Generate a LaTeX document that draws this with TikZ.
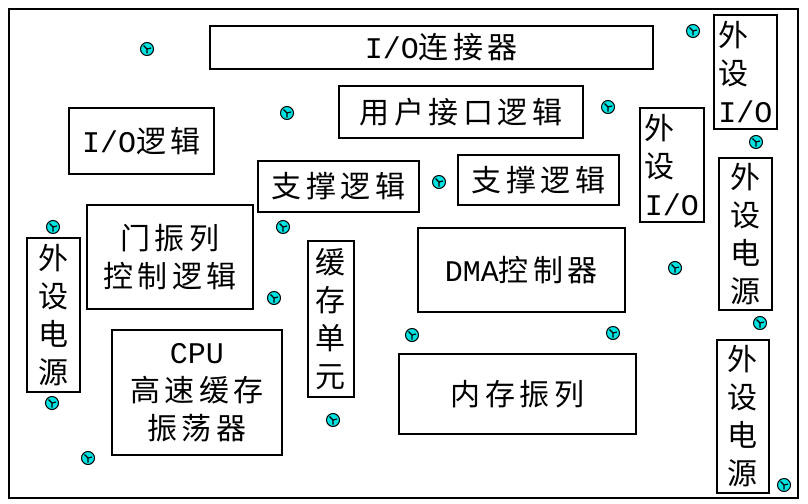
\documentclass[tikz,border=0pt]{standalone}
\usepackage{fontspec}
\setmainfont{Noto Sans CJK SC}[LetterSpace=15]
\newfontfamily\latinfont{Liberation Mono}
\usepackage{tikz}
\usetikzlibrary{positioning, calc}

\definecolor{viacol}{RGB}{0,225,225}

\tikzset{
  blk/.style={draw, line width=1.6pt, inner sep=0pt, anchor=north west, align=center,
    font=\fontsize{30}{38}\selectfont},
  via/.style={circle, draw=black, line width=1pt, fill=viacol, minimum size=13pt, inner sep=0pt,
    path picture={\draw[line width=1.1pt] (path picture bounding box.center) -- +(-3.5pt,3.5pt)
      (path picture bounding box.center) -- +(4pt,1pt) (path picture bounding box.center) -- +(0,-4.5pt);}}
}

\begin{document}
\begin{tikzpicture}[x=1pt, y=-1pt]

%// board outline, pixel grid of the reference
\useasboundingbox (0,0) rectangle (808,503);
\draw[line width=1.8pt] (9,9) rectangle (798,498);

%// top row
\node[blk, minimum width=443pt, minimum height=43pt] (ioconn) at (209,25) {\hspace{20pt}{\latinfont I/O}连接器};
\node[blk, minimum width=244pt, minimum height=52pt] (userif) at (338,85) {用户接口逻辑};
\node[blk, minimum width=145pt, minimum height=66pt] (iologic) at (68,107) {{\latinfont I/O}逻辑};

%// support logic
\node[blk, minimum width=161pt, minimum height=51pt] (supl) at (257,160) {支撑逻辑};
\node[blk, minimum width=161pt, minimum height=50pt] (supr) at (457,154) {支撑逻辑};

%// peripherals on the right
\node[blk, align=left, minimum width=63pt, minimum height=114pt] (pioa) at (713,14) {外\\设\\{\latinfont I/O}};
\node[blk, align=left, minimum width=64pt, minimum height=114pt] (piob) at (639,107) {外\\设\\{\latinfont I/O}};
\node[blk, minimum width=53pt, minimum height=152pt] (pwra) at (718,157) {外\\设\\电\\源};
\node[blk, minimum width=52pt, minimum height=153pt] (pwrb) at (716,339) {外\\设\\电\\源};
\node[blk, minimum width=53pt, minimum height=154pt] (pwrl) at (26,237) {外\\设\\电\\源};

%// core blocks
\node[blk, minimum width=166pt, minimum height=104pt] (gate) at (86,204) {门振列\\控制逻辑};
\node[blk, minimum width=170pt, minimum height=125pt] (cpu) at (111,329) {{\latinfont CPU}\\高速缓存\\振荡器};
\node[blk, minimum width=46pt, minimum height=156pt] (cache) at (307,240) {缓\\存\\单\\元};
\node[blk, minimum width=207pt, minimum height=84pt] (dma) at (417,227) {{\latinfont DMA}控制器};
\node[blk, minimum width=237pt, minimum height=80pt] (mem) at (398,353) {内存振列};

%// vias
\foreach \x/\y [count=\i] in {147/49, 287/113, 53/227, 283/227, 439/182, 693/31, 608/107,
  756/142, 274/298, 52/403, 88/458, 412/335, 333/420, 675/268, 613/333, 760/323, 784/485}
\node[via] (v\i) at (\x,\y) {};

\end{tikzpicture}
\end{document}
